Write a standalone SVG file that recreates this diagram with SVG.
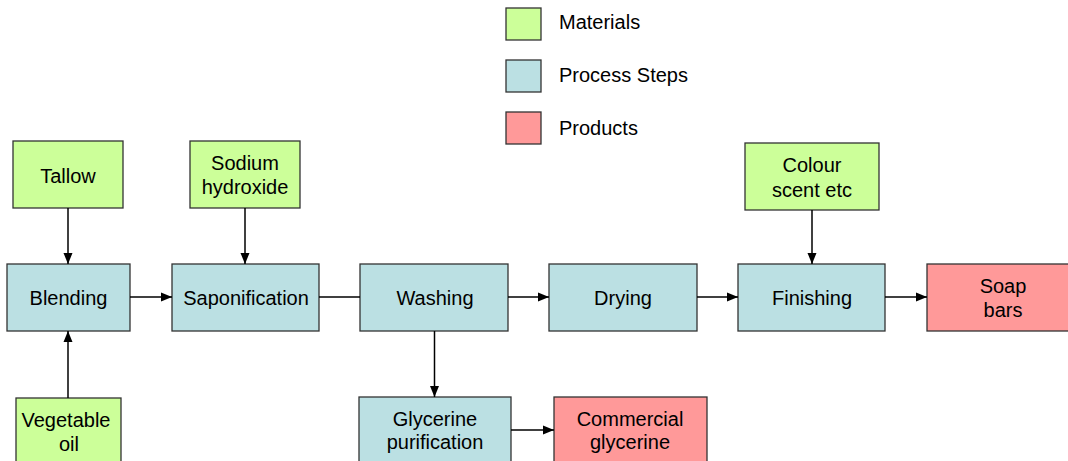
<svg xmlns="http://www.w3.org/2000/svg" width="1068" height="461" viewBox="0 0 1068 461">
<style>
.box{stroke:#333;stroke-width:1.3}
.mat{fill:#CCFF99}
.proc{fill:#BBE0E3}
.prod{fill:#FF9999}
text{font-family:"Liberation Sans",Arial,sans-serif;font-size:20px;fill:#000;text-anchor:middle}
text.leg{text-anchor:start}
.con{stroke:#000;stroke-width:1.5;fill:none}
</style>
<defs>
<marker id="ah" markerWidth="11" markerHeight="10" viewBox="0 0 11 10" refX="11" refY="5" orient="auto" markerUnits="userSpaceOnUse">
<path d="M0,0.5 L11,5 L0,9.5 Z" fill="#000"/>
</marker>
</defs>
<rect width="1068" height="461" fill="#fff"/>
<g id="legend">
<rect class="box mat" x="506" y="8" width="35" height="32"/>
<text class="leg" x="559" y="29">Materials</text>
<rect class="box proc" x="506" y="60" width="35" height="32"/>
<text class="leg" x="559" y="82">Process Steps</text>
<rect class="box prod" x="506" y="112" width="35" height="32"/>
<text class="leg" x="559" y="135">Products</text>
</g>
<g id="tallow"><rect class="box mat" x="13" y="141" width="110" height="67"/><text x="68" y="183">Tallow</text></g>
<g id="sodium"><rect class="box mat" x="190" y="141" width="110" height="67"/><text x="245" y="170">Sodium</text><text x="245" y="194">hydroxide</text></g>
<g id="colour"><rect class="box mat" x="745" y="143" width="134" height="67"/><text x="812" y="172">Colour</text><text x="812" y="197">scent etc</text></g>
<g id="vegoil"><rect class="box mat" x="16" y="398" width="105" height="70"/><text x="66" y="427">Vegetable</text><text x="69" y="451">oil</text></g>
<g id="blending"><rect class="box proc" x="7" y="264" width="123" height="67"/><text x="68.5" y="305">Blending</text></g>
<g id="saponification"><rect class="box proc" x="172" y="264" width="147" height="67"/><text x="246" y="305">Saponification</text></g>
<g id="washing"><rect class="box proc" x="360" y="264" width="148" height="67"/><text x="435" y="305">Washing</text></g>
<g id="drying"><rect class="box proc" x="549" y="264" width="148" height="67"/><text x="623" y="305">Drying</text></g>
<g id="finishing"><rect class="box proc" x="738" y="264" width="147" height="67"/><text x="812" y="305">Finishing</text></g>
<g id="soapbars"><rect class="box prod" x="927" y="264" width="152" height="67"/><text x="1003" y="293">Soap</text><text x="1003" y="317">bars</text></g>
<g id="glycerine"><rect class="box proc" x="359" y="397" width="152" height="70"/><text x="435" y="426">Glycerine</text><text x="435" y="449">purification</text></g>
<g id="commercial"><rect class="box prod" x="554" y="397" width="153" height="70"/><text x="630" y="426">Commercial</text><text x="630" y="449">glycerine</text></g>
<g id="connectors">
<line class="con" x1="68" y1="208" x2="68" y2="264" marker-end="url(#ah)"/>
<line class="con" x1="68" y1="398" x2="68" y2="331" marker-end="url(#ah)"/>
<line class="con" x1="245" y1="208" x2="245" y2="264" marker-end="url(#ah)"/>
<line class="con" x1="130" y1="297" x2="172" y2="297" marker-end="url(#ah)"/>
<line class="con" x1="319" y1="297" x2="360" y2="297"/>
<line class="con" x1="508" y1="297" x2="549" y2="297" marker-end="url(#ah)"/>
<line class="con" x1="697" y1="297" x2="738" y2="297" marker-end="url(#ah)"/>
<line class="con" x1="885" y1="297" x2="927" y2="297" marker-end="url(#ah)"/>
<line class="con" x1="812" y1="210" x2="812" y2="264" marker-end="url(#ah)"/>
<line class="con" x1="434.5" y1="331" x2="434.5" y2="397" marker-end="url(#ah)"/>
<line class="con" x1="511" y1="430" x2="554" y2="430" marker-end="url(#ah)"/>
</g>
</svg>
